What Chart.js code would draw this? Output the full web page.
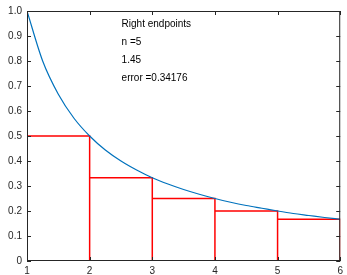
<!DOCTYPE html>
<html>
<head>
<meta charset="utf-8">
<script src="https://cdn.jsdelivr.net/npm/chart.js@4"></script>
<style>
  html, body { margin: 0; padding: 0; background: #fff; }
  #wrap { width: 347px; height: 275px; }
</style>
</head>
<body>
<div id="wrap"><canvas id="myChart"></canvas></div>
<script>
// curve y = 1/x
const curveX = [1, 1.25, 1.5, 1.75, 2, 2.25, 2.5, 2.75, 3, 3.25, 3.5, 3.75, 4, 4.25, 4.5, 4.75, 5, 5.25, 5.5, 5.75, 6];
const curveY = [1, 0.8, 0.667, 0.571, 0.5, 0.444, 0.4, 0.364, 0.333, 0.308, 0.286, 0.267, 0.25, 0.235, 0.222, 0.211, 0.2, 0.19, 0.182, 0.174, 0.167];

// right endpoint rectangles
const rectLeft = [1, 2, 3, 4, 5];
const rectRight = [2, 3, 4, 5, 6];
const rectHeight = [0.5, 0.3333, 0.25, 0.2, 0.1667];

const xTicks = [1, 2, 3, 4, 5, 6];
const yTicks = [0, 0.1, 0.2, 0.3, 0.4, 0.5, 0.6, 0.7, 0.8, 0.9, 1];

const notes = ['Right endpoints', 'n =5', '1.45', 'error =0.34176'];

const curvePts = curveX.map((x, i) => ({ x: x, y: curveY[i] }));
const rectPts = [];
rectLeft.forEach((l, i) => {
  rectPts.push({ x: l, y: 0 }, { x: l, y: rectHeight[i] },
    { x: rectRight[i], y: rectHeight[i] }, { x: rectRight[i], y: 0 }, { x: l, y: 0 });
  rectPts.push({ x: null, y: null });
});

const frame = {
  id: 'frame',
  afterDraw(chart) {
    const c = chart.ctx, a = chart.chartArea;
    const xs = chart.scales.x, ys = chart.scales.y;
    c.save();
    c.strokeStyle = '#262626';
    c.lineWidth = 1;
    c.strokeRect(a.left + 0.5, a.top + 0.5, a.right - a.left - 1, a.bottom - a.top - 1);
    c.beginPath();
    xTicks.forEach(v => {
      const p = Math.round(xs.getPixelForValue(v)) + 0.5;
      c.moveTo(p, a.bottom); c.lineTo(p, a.bottom - 4);
      c.moveTo(p, a.top); c.lineTo(p, a.top + 4);
    });
    yTicks.forEach(v => {
      const p = Math.round(ys.getPixelForValue(v)) + 0.5;
      c.moveTo(a.left, p); c.lineTo(a.left + 4, p);
      c.moveTo(a.right, p); c.lineTo(a.right - 4, p);
    });
    c.stroke();
    c.fillStyle = '#000';
    c.font = '10px "Liberation Sans", Arial, sans-serif';
    c.textBaseline = 'middle';
    const tx = xs.getPixelForValue(2.51);
    const ty = [0.948, 0.877, 0.805, 0.73];
    notes.forEach((t, i) => c.fillText(t, tx, ys.getPixelForValue(ty[i])));
    c.restore();
  }
};

const ctx = document.getElementById('myChart');
new Chart(ctx, {
  type: 'scatter',
  data: {
    datasets: [
      {
        label: 'rects',
        data: rectPts,
        showLine: true,
        spanGaps: false,
        borderColor: '#ff0000',
        borderWidth: 1.5,
        pointRadius: 0,
        order: 2
      },
      {
        label: '1/x',
        data: curvePts,
        showLine: true,
        borderColor: '#0072bd',
        borderWidth: 1.2,
        pointRadius: 0,
        cubicInterpolationMode: 'monotone',
        order: 1
      }
    ]
  },
  plugins: [frame],
  options: {
    responsive: true,
    maintainAspectRatio: false,
    animation: false,
    layout: { padding: { top: 9, right: 1, left: 0, bottom: 0 } },
    plugins: { legend: { display: false }, tooltip: { enabled: false } },
    scales: {
      x: {
        type: 'linear', min: 1, max: 6,
        afterBuildTicks: s => { s.ticks = xTicks.map(v => ({ value: v })); },
        afterFit: s => { s.height = 14; },
        grid: { display: false, drawTicks: false },
        border: { display: false },
        ticks: { color: '#262626', padding: 4, maxRotation: 0, font: { size: 10, family: '"Liberation Sans", Arial, sans-serif' } }
      },
      y: {
        min: 0, max: 1,
        afterBuildTicks: s => { s.ticks = yTicks.map(v => ({ value: v })); },
        afterFit: s => { s.width = 27; },
        grid: { display: false, drawTicks: false },
        border: { display: false },
        ticks: { color: '#262626', padding: 5, font: { size: 10, family: '"Liberation Sans", Arial, sans-serif' } }
      }
    }
  }
});
</script>
</body>
</html>
